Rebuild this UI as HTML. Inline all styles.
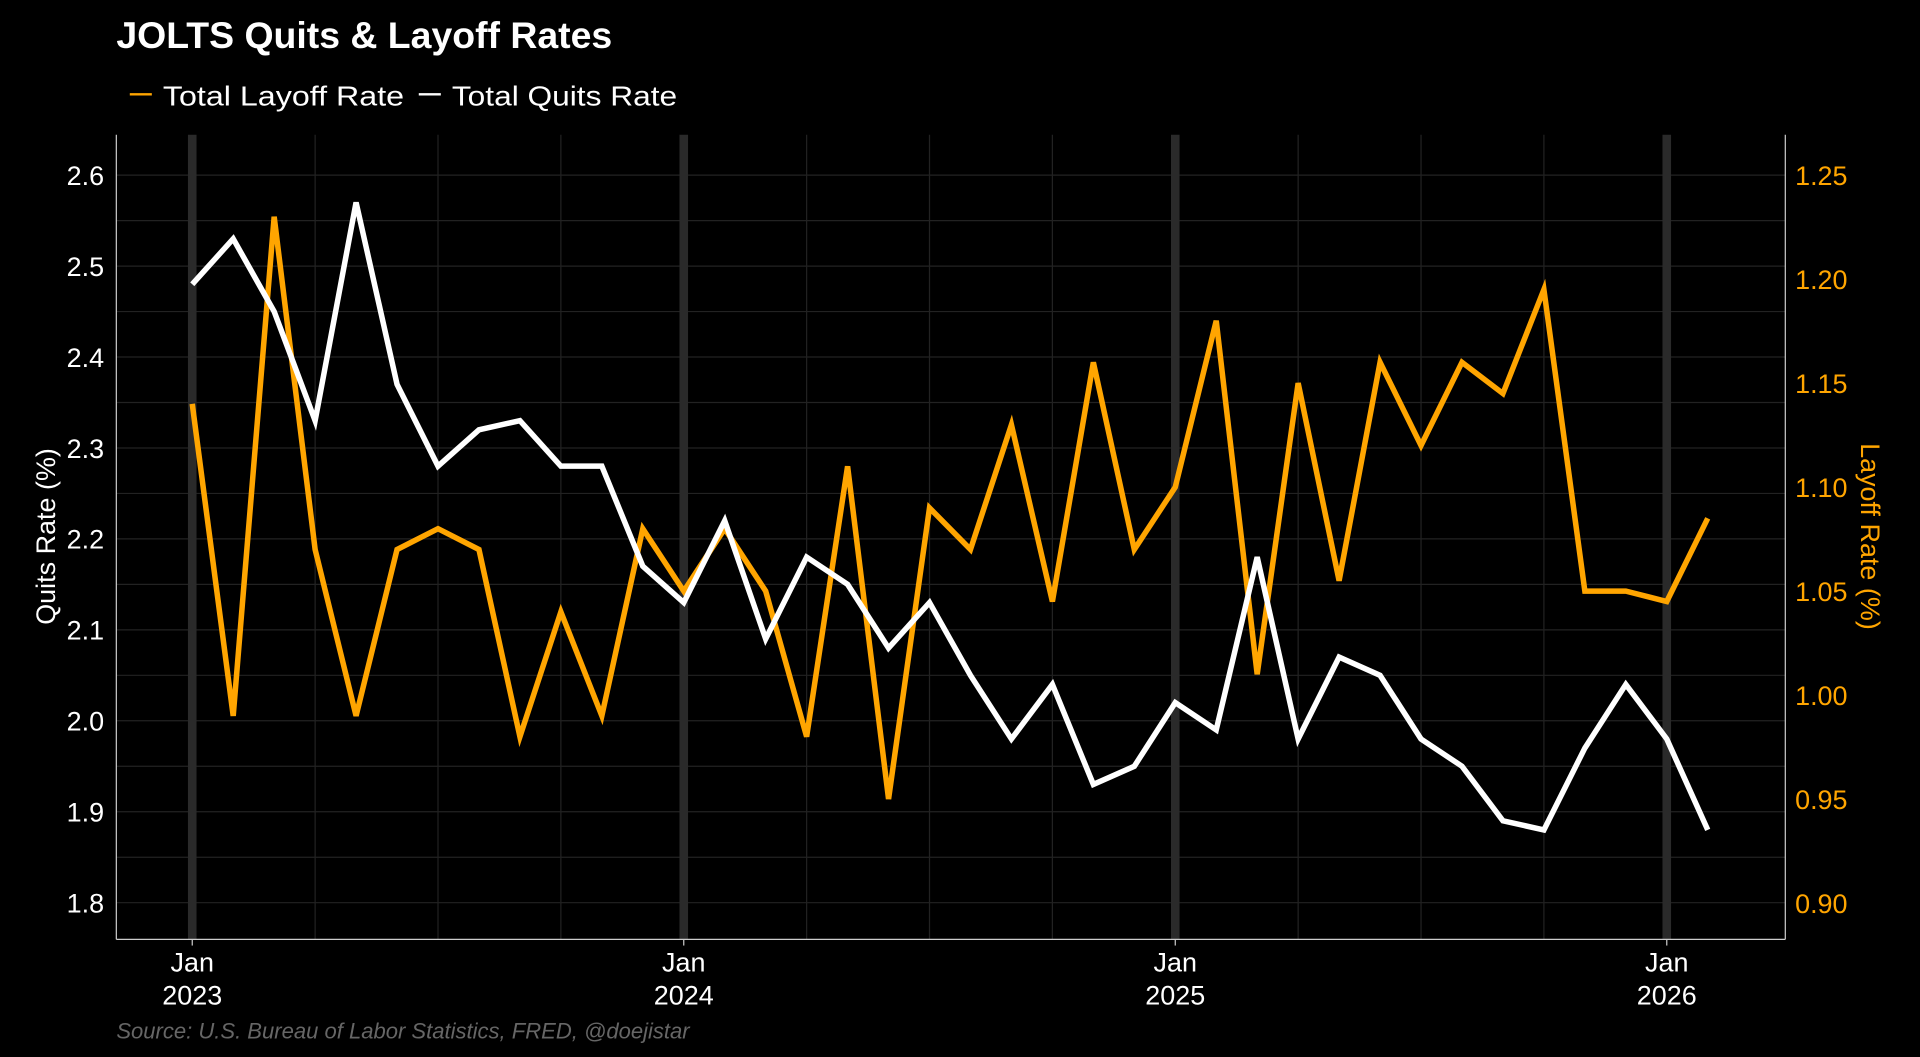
<!DOCTYPE html>
<html><head><meta charset="utf-8"><style>
html,body{margin:0;padding:0;background:#000;width:1920px;height:1057px;overflow:hidden}
svg{display:block;font-family:"Liberation Sans",sans-serif}
</style></head><body>
<svg id="chart" width="1920" height="1057" viewBox="0 0 1568 863" preserveAspectRatio="none" xmlns="http://www.w3.org/2000/svg">
<rect width="1568" height="863" fill="#000"/>
<text x="95" y="39" fill="#fff" font-size="30" font-weight="bold" textLength="405" lengthAdjust="spacingAndGlyphs">JOLTS Quits &amp; Layoff Rates</text>
<g>
<line x1="106" y1="77" x2="124" y2="77" stroke="#FFA500" stroke-width="2"/>
<text x="133" y="86" fill="#fff" font-size="23" textLength="197" lengthAdjust="spacingAndGlyphs">Total Layoff Rate</text>
<line x1="342" y1="77" x2="360" y2="77" stroke="#fff" stroke-width="2"/>
<text x="369" y="86" fill="#fff" font-size="23" textLength="184" lengthAdjust="spacingAndGlyphs">Total Quits Rate</text>
</g>
<g id="grid"></g>
<g id="axes"></g>
<g id="series"></g>
<text transform="translate(45,438) rotate(-90)" text-anchor="middle" fill="#fff" font-size="22">Quits Rate (%)</text>
<text transform="translate(1520,438) rotate(90)" text-anchor="middle" fill="#FFA500" font-size="22">Layoff Rate (%)</text>
<text x="95" y="848" fill="#666" font-size="18" font-style="italic">Source: U.S. Bureau of Labor Statistics, FRED, @doejistar</text>
</svg>
<script>
const quits = [2.48,2.53,2.45,2.33,2.57,2.37,2.28,2.32,2.33,2.28,2.28,2.17,2.13,2.22,2.09,2.18,2.15,2.08,2.13,2.05,1.98,2.04,1.93,1.95,2.02,1.99,2.18,1.98,2.07,2.05,1.98,1.95,1.89,1.88,1.97,2.04,1.98,1.88];
const layoffs = [1.14,0.99,1.23,1.07,0.99,1.07,1.08,1.07,0.98,1.04,0.99,1.08,1.05,1.08,1.05,0.98,1.11,0.95,1.09,1.07,1.13,1.045,1.16,1.07,1.10,1.18,1.01,1.15,1.055,1.16,1.12,1.16,1.145,1.195,1.05,1.05,1.045,1.085];
const leftTicks = [1.8,1.9,2.0,2.1,2.2,2.3,2.4,2.5,2.6];
const rightTicks = [0.90,0.95,1.00,1.05,1.10,1.15,1.20,1.25];
const yearLabels = ["2023","2024","2025","2026"];

const NS="http://www.w3.org/2000/svg";
const X0=157, MONTH=33.45, PL=95, PR=1458, PT=110, PB=767;
const xScale=i=>X0+i*MONTH;
const yLeft=v=>143+(2.6-v)*742.5;
const yRight=v=>143+(1.25-v)*1698;
function mk(tag,attrs,parent){const e=document.createElementNS(NS,tag);for(const k in attrs)e.setAttribute(k,attrs[k]);parent.appendChild(e);return e;}
const grid=document.getElementById('grid'), axes=document.getElementById('axes'), series=document.getElementById('series');

for(let v=1.75;v<=2.65;v+=0.05){
  const y=yLeft(v);
  if(y<PT||y>PB)continue;
  const l=mk('line',{x1:PL,x2:PR,y1:y,y2:y,stroke:'#222','stroke-width':1},grid);
  
  
}
for(let i=-1;i<=42;i++){
  const x=xScale(i);
  if(x<PL||x>PR)continue;
  if(i%12===0){
    const l=mk('line',{x1:x,x2:x,y1:PT,y2:PB,stroke:'#2a2a2a','stroke-width':7},grid);
    
    
  } else if(i%3===0){
    const l=mk('line',{x1:x,x2:x,y1:PT,y2:PB,stroke:'#222','stroke-width':1},grid);
    
    
  }
}
let a;
a=mk('line',{x1:PL,x2:PL,y1:PT,y2:PB,stroke:'#ccc','stroke-width':1},axes);


a=mk('line',{x1:PR,x2:PR,y1:PT,y2:PB,stroke:'#ccc','stroke-width':1},axes);


a=mk('line',{x1:PL,x2:PR,y1:PB,y2:PB,stroke:'#ccc','stroke-width':1},axes);


leftTicks.forEach(v=>{
  const t=mk('text',{x:PL-10,y:yLeft(v)+8,'text-anchor':'end',fill:'#fff','font-size':22},axes);
  t.textContent=v.toFixed(1);
  
  
});
rightTicks.forEach(v=>{
  const t=mk('text',{x:PR+8,y:yRight(v)+8,fill:'#FFA500','font-size':22},axes);
  t.textContent=v.toFixed(2);
  
  
});
yearLabels.forEach((yr,k)=>{
  const x=xScale(k*12);
  const tk=mk('line',{x1:x,x2:x,y1:PB,y2:PB+5,stroke:'#ccc'},axes);
  
  
  const t1=mk('text',{x:x,y:793,'text-anchor':'middle',fill:'#fff','font-size':22},axes);
  t1.textContent='Jan';
  
  
  const t2=mk('text',{x:x,y:820,'text-anchor':'middle',fill:'#fff','font-size':22},axes);
  t2.textContent=yr;
  
  
});
const lp=mk('polyline',{points:layoffs.map((v,i)=>xScale(i)+','+yRight(v)).join(' '),fill:'none',stroke:'#FFA500','stroke-width':4.5,'stroke-linejoin':'miter'},series);


const qp=mk('polyline',{points:quits.map((v,i)=>xScale(i)+','+yLeft(v)).join(' '),fill:'none',stroke:'#fff','stroke-width':4.5,'stroke-linejoin':'miter'},series);


</script>
</body></html>
